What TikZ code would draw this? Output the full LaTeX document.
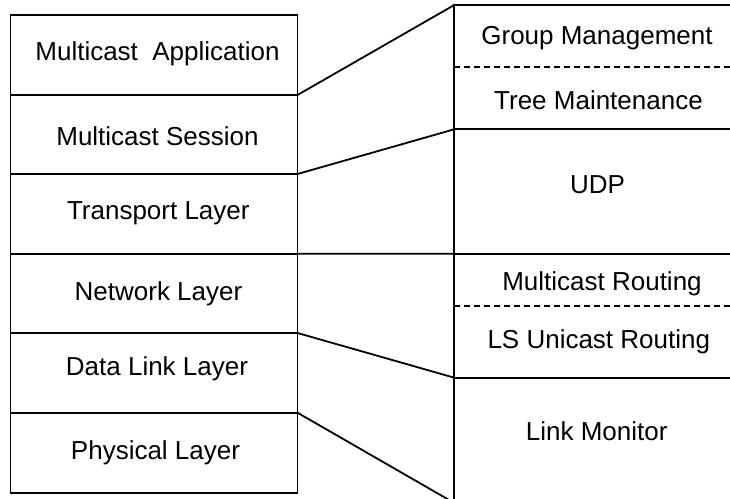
\documentclass[tikz,border=0pt]{standalone}
\usepackage{fontspec}
\setmainfont{Liberation Sans}
\begin{document}
\begin{tikzpicture}[x=1pt,y=1pt,
  box/.style={draw, line width=1.8pt, rectangle, inner sep=0pt, outer sep=0pt, anchor=north west},
  lbox/.style={box, minimum width=287pt},
  rbox/.style={box, minimum width=290.7pt},
  lbl/.style={anchor=base, inner sep=0pt, font=\fontsize{26}{30}\selectfont},
  conn/.style={line width=1.8pt},
  dsh/.style={line width=1.6pt, dash pattern=on 5.5pt off 4.5pt}]
\useasboundingbox (0,0) rectangle (730,498);
\clip (0,0) rectangle (730,498);
% left stack
\node[lbox, minimum height=80pt]   (app)   at (10.5,483)   {};
\node[lbox, minimum height=79pt]   (sess)  at (10.5,403)   {};
\node[lbox, minimum height=79.7pt] (trans) at (10.5,324)   {};
\node[lbox, minimum height=79.3pt] (net)   at (10.5,244.3) {};
\node[lbox, minimum height=79.7pt] (dll)   at (10.5,165)   {};
\node[lbox, minimum height=80pt]   (phy)   at (10.5,85.3)  {};
% right stack
\node[rbox, minimum height=124.3pt] (rA) at (454.3,493)   {};
\node[rbox, minimum height=124.4pt] (rB) at (454.3,368.7) {};
\node[rbox, minimum height=124pt]   (rC) at (454.3,244.3) {};
\node[rbox, minimum height=125.3pt] (rD) at (454.3,120.3) {};
\draw[dsh] (rA.west |- 0,431) -- (rA.east |- 0,431);
\draw[dsh] (rC.west |- 0,191.7) -- (rC.east |- 0,191.7);
% labels
\node[lbl] (tapp)   at (157.5,437)   {Multicast\ \ Application};
\node[lbl] (tsess)  at (157.5,352.3) {Multicast Session};
\node[lbl] (ttrans) at (158.3,278.7) {Transport Layer};
\node[lbl] (tnet)   at (158.5,197)   {Network Layer};
\node[lbl] (tdll)   at (157,122.3)   {Data Link Layer};
\node[lbl] (tphy)   at (155.5,38.7)  {Physical Layer};
\node[lbl] (tgm)  at (597,453.7)   {Group Management};
\node[lbl] (ttm)  at (598.5,388)   {Tree Maintenance};
\node[lbl] (tudp) at (597.5,304)   {UDP};
\node[lbl] (tmr)  at (602,207.3)   {Multicast Routing};
\node[lbl] (tls)  at (598.8,149.7) {LS Unicast Routing};
\node[lbl] (tlm)  at (596.7,58)    {Link Monitor};
% connectors
\draw[conn] (app.south east) -- (rA.north west);
\draw[conn] (sess.south east) -- (rB.north west);
\draw[conn] (trans.south east) -- (rC.north west);
\draw[conn] (net.south east) -- (rD.north west);
\draw[conn] (dll.south east) -- (rD.south west);
\end{tikzpicture}
\end{document}
